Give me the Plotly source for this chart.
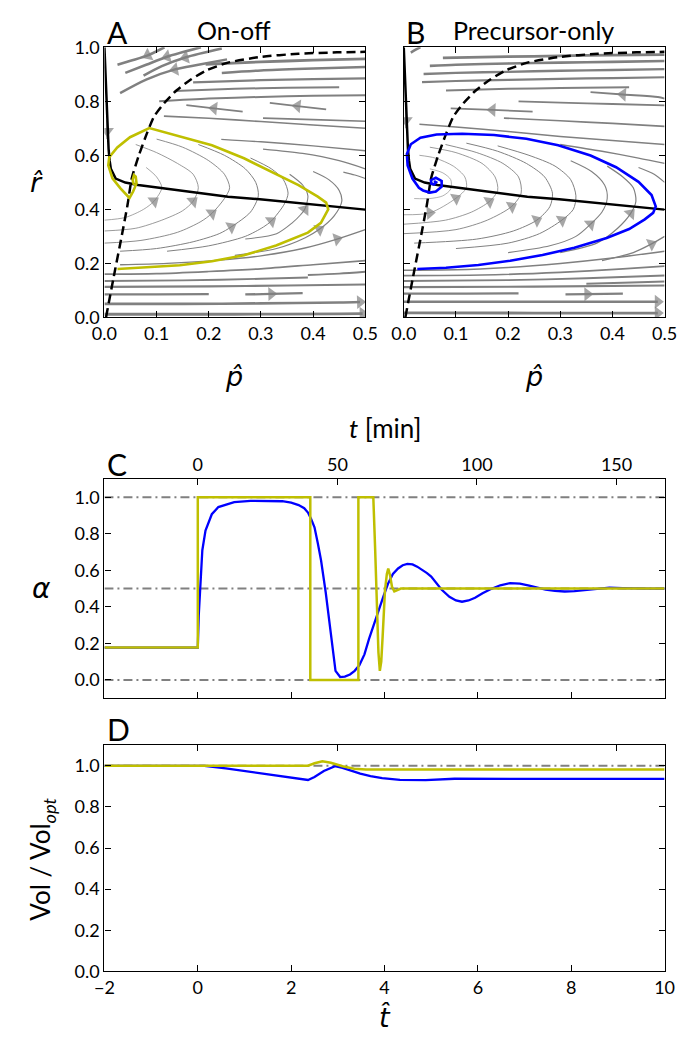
import plotly.graph_objects as go

W, H = 693, 1044

# ---------------- data ----------------
P_TICKS = [0.0, 0.1, 0.2, 0.3, 0.4, 0.5]
R_TICKS = [0.0, 0.2, 0.4, 0.6, 0.8, 1.0]
ALPHA_TICKS = [0.0, 0.2, 0.4, 0.6, 0.8, 1.0]
VOL_TICKS = [0.0, 0.2, 0.4, 0.6, 0.8, 1.0]
THAT_TICKS = [-2, 0, 2, 4, 6, 8, 10]
TMIN_TICKS = [0, 50, 100, 150]
MIN_PER_THAT = 16.72          # minutes per unit of t-hat (read from the two top/bottom scales)

# solid black curve (panels A and B)
SOLID_P = [0.0, 0.004, 0.008, 0.010, 0.0123, 0.0215, 0.040, 0.0646, 0.114, 0.175, 0.237, 0.298, 0.36, 0.421, 0.5]
SOLID_R = [1.0, 0.80, 0.623, 0.58, 0.55, 0.514, 0.499, 0.490, 0.478, 0.462, 0.447, 0.437, 0.426, 0.415, 0.399]
# dashed black curve
DASH_P = [0.003, 0.0203, 0.0326, 0.0443, 0.0523, 0.0658, 0.0818, 0.0953, 0.114, 0.138, 0.163, 0.194, 0.237, 0.298, 0.372, 0.446, 0.5]
DASH_R = [0.0, 0.175, 0.296, 0.417, 0.514, 0.599, 0.683, 0.744, 0.792, 0.840, 0.877, 0.913, 0.943, 0.964, 0.976, 0.981, 0.983]

# on-off trajectory (A)
ONOFF_P = [0.025, 0.083, 0.1445, 0.206, 0.2675, 0.329, 0.39, 0.415, 0.429, 0.425, 0.409, 0.372, 0.329, 0.2675, 0.206,
           0.1445, 0.086, 0.049, 0.0246, 0.0092, 0.0074, 0.0154, 0.0307, 0.048, 0.055, 0.0615, 0.060, 0.0566, 0.054, 0.0566]
ONOFF_R = [0.179, 0.185, 0.193, 0.208, 0.230, 0.266, 0.314, 0.350, 0.400, 0.425, 0.447, 0.49, 0.532, 0.589, 0.637,
           0.671, 0.701, 0.667, 0.629, 0.593, 0.563, 0.515, 0.478, 0.442, 0.466, 0.496, 0.521, 0.527, 0.509, 0.49]
# precursor-only trajectory (B)
PREC_P = [0.026, 0.081, 0.143, 0.204, 0.266, 0.327, 0.389, 0.432, 0.462, 0.478, 0.483, 0.475, 0.45, 0.407, 0.358,
          0.296, 0.235, 0.173, 0.112, 0.063, 0.032, 0.0135, 0.006, 0.0074, 0.0166, 0.029, 0.037, 0.05, 0.0615,
          0.0726, 0.0726, 0.0615, 0.052, 0.053, 0.058, 0.062, 0.058]
PREC_R = [0.179, 0.184, 0.194, 0.210, 0.231, 0.258, 0.294, 0.327, 0.363, 0.387, 0.411, 0.453, 0.502, 0.556, 0.599,
          0.637, 0.661, 0.675, 0.680, 0.677, 0.665, 0.641, 0.605, 0.562, 0.514, 0.48, 0.47, 0.462, 0.466,
          0.484, 0.505, 0.517, 0.508, 0.495, 0.492, 0.50, 0.505]

# streamlines of panel A, points (p, r) in flow direction
STREAMS_A = [
    [(0.115, 1.0), (0.083, 0.97), (0.05, 0.95), (0.025, 0.935)],
    [(0.185, 1.0), (0.12, 0.965), (0.08, 0.935), (0.04, 0.905)],
    [(0.225, 0.995), (0.155, 0.962), (0.11, 0.93), (0.075, 0.895)],
    [(0.235, 0.955), (0.18, 0.935), (0.135, 0.918), (0.08, 0.88), (0.03, 0.83)],
    [(0.5, 0.957), (0.4, 0.952), (0.3, 0.946), (0.194, 0.937)],
    [(0.5, 0.927), (0.4, 0.921), (0.3, 0.914), (0.225, 0.905)],
    [(0.5, 0.885), (0.4, 0.882), (0.3, 0.878), (0.17, 0.87)],
    [(0.45, 0.852), (0.35, 0.85), (0.25, 0.846), (0.135, 0.838)],
    [(0.5, 0.822), (0.4, 0.82), (0.3, 0.816), (0.2, 0.81), (0.105, 0.80)],
    [(0.265, 0.762), (0.21, 0.774), (0.157, 0.786)],
    [(0.425, 0.770), (0.37, 0.782), (0.317, 0.794)],
    [(0.5, 0.726), (0.4, 0.732), (0.304, 0.738)],
    [(0.5, 0.70), (0.4, 0.712), (0.3, 0.725), (0.2, 0.737), (0.114, 0.745)],
    [(0.5, 0.617), (0.4, 0.635), (0.3, 0.65), (0.224, 0.659)],
    [(0.5, 0.55), (0.45, 0.58), (0.38, 0.607), (0.304, 0.623)],
    [(0.5, 0.514), (0.48, 0.527), (0.458, 0.538)],
    [(0.005, 0.73), (0.005, 0.69), (0.005, 0.66)],
    [(0.0, 0.36), (0.04, 0.37), (0.075, 0.40), (0.095, 0.43), (0.11, 0.48), (0.10, 0.52), (0.08, 0.555)],
    [(0.0, 0.32), (0.06, 0.33), (0.11, 0.36), (0.15, 0.395), (0.17, 0.43), (0.18, 0.48), (0.17, 0.53), (0.14, 0.57), (0.10, 0.61), (0.06, 0.64)],
    [(0.0, 0.275), (0.07, 0.285), (0.14, 0.315), (0.185, 0.355), (0.206, 0.385), (0.23, 0.44), (0.24, 0.48), (0.23, 0.53), (0.2, 0.58), (0.15, 0.63), (0.1, 0.66)],
    [(0.03, 0.245), (0.1, 0.255), (0.17, 0.28), (0.22, 0.31), (0.243, 0.335), (0.28, 0.39), (0.295, 0.45), (0.29, 0.50), (0.27, 0.55), (0.23, 0.60), (0.18, 0.64)],
    [(0.12, 0.245), (0.2, 0.265), (0.27, 0.3), (0.305, 0.335), (0.32, 0.357), (0.345, 0.42), (0.352, 0.46), (0.343, 0.51), (0.32, 0.55), (0.28, 0.59)],
    [(0.27, 0.29), (0.33, 0.31), (0.36, 0.35), (0.376, 0.38), (0.384, 0.40), (0.39, 0.45), (0.38, 0.49), (0.355, 0.53)],
    [(0.25, 0.23), (0.33, 0.255), (0.385, 0.295), (0.412, 0.326), (0.44, 0.375), (0.455, 0.43), (0.45, 0.47), (0.43, 0.51), (0.40, 0.54)],
    [(0.03, 0.195), (0.12, 0.2), (0.22, 0.212), (0.3, 0.228), (0.38, 0.255), (0.446, 0.29), (0.5, 0.325)],
    [(0.0, 0.16), (0.1, 0.162), (0.2, 0.17), (0.3, 0.18), (0.4, 0.195), (0.5, 0.21)],
    [(0.0, 0.135), (0.15, 0.137), (0.3, 0.143), (0.39, 0.148)],
    [(0.39, 0.157), (0.45, 0.162), (0.5, 0.169)],
    [(0.0, 0.113), (0.2, 0.115), (0.35, 0.118), (0.5, 0.122)],
    [(0.27, 0.085), (0.32, 0.087), (0.38, 0.09)],
    [(0.0, 0.085), (0.1, 0.085), (0.2, 0.086)],
    [(0.0, 0.05), (0.15, 0.05), (0.3, 0.052), (0.45, 0.055), (0.49, 0.057)],
    [(0.0, 0.012), (0.25, 0.012), (0.45, 0.013), (0.495, 0.014)],
]
ARROWS_A = [[1], [1], [1], [2], [], [], [], [], [], [1], [1], [], [], [], [], [], [1],
            [3], [4], [4], [4], [4], [4], [3], [5], [], [], [], [], [1], [], [4], [3]]

# streamlines of panel B
STREAMS_B = [
    [(0.032, 1.0), (0.022, 0.99), (0.0135, 0.98)],
    [(0.5, 0.973), (0.4, 0.971), (0.3, 0.968), (0.2, 0.965), (0.075, 0.961)],
    [(0.5, 0.949), (0.4, 0.946), (0.3, 0.943), (0.2, 0.94), (0.1, 0.935), (0.05, 0.931)],
    [(0.5, 0.919), (0.4, 0.916), (0.3, 0.913), (0.2, 0.909), (0.1, 0.905), (0.038, 0.901)],
    [(0.5, 0.889), (0.4, 0.886), (0.3, 0.883), (0.2, 0.879), (0.1, 0.875), (0.035, 0.871)],
    [(0.432, 0.852), (0.3, 0.849), (0.2, 0.846), (0.081, 0.84)],
    [(0.5, 0.81), (0.487, 0.816), (0.42, 0.825), (0.358, 0.834)],
    [(0.247, 0.762), (0.17, 0.768), (0.09, 0.774)],
    [(0.5, 0.785), (0.4, 0.79), (0.3, 0.795), (0.22, 0.80)],
    [(0.5, 0.707), (0.4, 0.718), (0.3, 0.728), (0.192, 0.738)],
    [(0.5, 0.64), (0.4, 0.655), (0.3, 0.67), (0.2, 0.688), (0.1, 0.705), (0.03, 0.715)],
    [(0.5, 0.57), (0.45, 0.59), (0.38, 0.615), (0.3, 0.64)],
    [(0.5, 0.50), (0.48, 0.53), (0.45, 0.555)],
    [(0.004, 0.77), (0.004, 0.73), (0.004, 0.70)],
    [(0.02, 0.44), (0.05, 0.44), (0.075, 0.45), (0.09, 0.475), (0.09, 0.51), (0.075, 0.535), (0.05, 0.55)],
    [(0.0, 0.38), (0.05, 0.387), (0.1, 0.441), (0.12, 0.48), (0.117, 0.52), (0.095, 0.56), (0.06, 0.59), (0.03, 0.60)],
    [(0.0, 0.345), (0.08, 0.36), (0.13, 0.39), (0.164, 0.429), (0.18, 0.47), (0.175, 0.52), (0.15, 0.57), (0.1, 0.61), (0.05, 0.63)],
    [(0.0, 0.31), (0.1, 0.325), (0.16, 0.36), (0.207, 0.411), (0.225, 0.46), (0.22, 0.52), (0.19, 0.57), (0.14, 0.61), (0.08, 0.64)],
    [(0.02, 0.275), (0.14, 0.29), (0.21, 0.32), (0.255, 0.36), (0.28, 0.41), (0.285, 0.46), (0.27, 0.52), (0.235, 0.57), (0.18, 0.615), (0.12, 0.645)],
    [(0.1, 0.255), (0.2, 0.275), (0.26, 0.31), (0.303, 0.36), (0.325, 0.40), (0.33, 0.45), (0.32, 0.51), (0.29, 0.56), (0.24, 0.60), (0.18, 0.635)],
    [(0.2, 0.24), (0.28, 0.265), (0.33, 0.3), (0.358, 0.345), (0.38, 0.39), (0.39, 0.44), (0.385, 0.49), (0.36, 0.54), (0.32, 0.58)],
    [(0.3, 0.24), (0.37, 0.275), (0.41, 0.33), (0.435, 0.385), (0.445, 0.43), (0.44, 0.48), (0.42, 0.52), (0.39, 0.56)],
    [(0.38, 0.21), (0.44, 0.24), (0.475, 0.272), (0.5, 0.30)],
    [(0.0, 0.175), (0.1, 0.176), (0.2, 0.185), (0.3, 0.2), (0.4, 0.22), (0.5, 0.245)],
    [(0.0, 0.155), (0.15, 0.157), (0.3, 0.167), (0.42, 0.18), (0.5, 0.19)],
    [(0.0, 0.135), (0.2, 0.138), (0.35, 0.145), (0.5, 0.155)],
    [(0.35, 0.125), (0.42, 0.128), (0.5, 0.133)],
    [(0.0, 0.112), (0.25, 0.114), (0.5, 0.118)],
    [(0.31, 0.085), (0.352, 0.086), (0.42, 0.088)],
    [(0.0, 0.088), (0.12, 0.088), (0.22, 0.089)],
    [(0.0, 0.058), (0.2, 0.058), (0.4, 0.058), (0.487, 0.058)],
    [(0.0, 0.017), (0.25, 0.016), (0.487, 0.016)],
]
ARROWS_B = [[], [], [], [], [], [], [2], [1], [], [], [], [], [], [1],
            [], [1, 2], [3], [3], [3], [3], [3], [3], [2], [], [], [], [], [], [1], [], [3], [2]]

# panel C: allocation alpha(t-hat)
BLUE_ALPHA_T = [-2.0, 0.0, 0.02, 0.062, 0.097, 0.165, 0.30, 0.44, 0.78, 1.13, 1.5, 1.81, 2.0, 2.16, 2.28, 2.36,
                2.43, 2.50, 2.57, 2.64, 2.74, 2.85, 2.95, 3.05, 3.15, 3.26, 3.36, 3.46, 3.57, 3.67, 3.78, 3.88,
                3.98, 4.08, 4.18, 4.29, 4.39, 4.49, 4.60, 4.70, 4.80, 4.91, 5.0, 5.11, 5.22, 5.39, 5.53, 5.66,
                5.80, 5.94, 6.10, 6.28, 6.48, 6.69, 6.90, 7.10, 7.28, 7.45, 7.65, 7.86, 8.07, 8.27, 8.55, 8.82,
                9.1, 9.37, 9.7, 10.0]
BLUE_ALPHA = [0.177, 0.177, 0.35, 0.566, 0.71, 0.817, 0.907, 0.946, 0.973, 0.98, 0.981, 0.978, 0.97, 0.957, 0.94, 0.916,
              0.88, 0.835, 0.75, 0.655, 0.48, 0.245, 0.05, 0.016, 0.018, 0.03, 0.05, 0.08, 0.14, 0.226, 0.31, 0.39,
              0.46, 0.53, 0.58, 0.61, 0.628, 0.635, 0.632, 0.62, 0.605, 0.585, 0.566, 0.53, 0.495, 0.455, 0.435, 0.428,
              0.435, 0.45, 0.475, 0.498, 0.518, 0.53, 0.527, 0.516, 0.505, 0.495, 0.488, 0.484, 0.486, 0.49, 0.498, 0.505,
              0.503, 0.50, 0.50, 0.50]
GOLD_ALPHA_T = [-2.0, 0.0, 0.0, 2.41, 2.41, 3.44, 3.44, 3.76, 3.80, 3.84, 3.87, 3.90, 3.93, 3.96, 4.01, 4.05,
                4.08, 4.12, 4.16, 4.21, 4.25, 4.35, 10.0]
GOLD_ALPHA = [0.177, 0.177, 1.0, 1.0, 0.0, 0.0, 1.0, 1.0, 0.71, 0.40, 0.15, 0.05, 0.10, 0.24, 0.49, 0.58,
              0.61, 0.57, 0.51, 0.485, 0.49, 0.50, 0.50]
ALPHA_REF = [0.0, 0.5, 1.0]

# panel D: Vol / Vol_opt
BLUE_VOL_T = [-2.0, 0.14, 0.6, 1.2, 1.8, 2.1, 2.36, 2.5, 2.7, 2.94, 3.1, 3.3, 3.48, 3.7, 3.95, 4.33, 4.88, 5.5, 6.43, 7.98, 10.0]
BLUE_VOL = [1.0, 1.0, 0.987, 0.968, 0.949, 0.94, 0.931, 0.945, 0.975, 0.998, 0.99, 0.975, 0.962, 0.95, 0.94, 0.931, 0.930, 0.937, 0.937, 0.936, 0.936]
GOLD_VOL_T = [-2.0, 2.36, 2.5, 2.67, 2.85, 3.1, 3.35, 3.6, 10.0]
GOLD_VOL = [1.0, 1.0, 1.012, 1.022, 1.015, 0.998, 0.986, 0.982, 0.982]
VOL_REF = [1.0]

# ---------------- styles ----------------
GRAY = "#808080"
GOLD = "#bfbf00"
BLUE = "#0000ff"
TICK_FONT = dict(family="Lato, DejaVu Sans, sans-serif", size=18, color="black")
MATH_FONT = "DejaVu Sans, sans-serif"
TXT_FONT = "Lato, DejaVu Sans, sans-serif"
WIDTHS_A = [2.6, 2.6, 2.6, 2.4, 2.8, 2.5, 2.2, 2.0, 2.0, 1.8, 1.8, 1.7, 1.6, 1.4, 1.3, 1.2, 1.2,
            0.7, 0.8, 0.9, 1.0, 1.0, 1.1, 1.2, 1.4, 1.7, 1.9, 1.9, 2.1, 2.3, 2.3, 2.6, 2.9]
WIDTHS_B = [2.5, 2.8, 2.6, 2.4, 2.2, 2.0, 1.9, 1.8, 1.8, 1.7, 1.5, 1.3, 1.2, 1.2,
            0.6, 0.7, 0.8, 0.9, 1.0, 1.0, 1.1, 1.2, 1.3, 1.5, 1.7, 1.9, 2.0, 2.1, 2.3, 2.3, 2.6, 2.9]


def dx(px):
    return px / W


def dy(px):
    return 1 - px / H


fig = go.Figure()


def add_streams(streams, arrows, widths, xa, ya):
    ax_x, ax_y = [], []
    for pts, arr, w in zip(streams, arrows, widths):
        fig.add_trace(go.Scatter(x=[p for p, _ in pts], y=[r for _, r in pts], mode="lines",
                                 line=dict(color=GRAY, width=w, shape="spline", smoothing=0.8),
                                 xaxis=xa, yaxis=ya, hoverinfo="skip", showlegend=False))
        for k in arr:
            ax_x += [pts[k - 1][0], pts[k][0]]
            ax_y += [pts[k - 1][1], pts[k][1]]
    n = len(ax_x) // 2
    fig.add_trace(go.Scatter(x=ax_x, y=ax_y, mode="markers",
                             marker=dict(symbol="triangle-up", size=[0, 12] * n, color=GRAY,
                                         angleref="previous", line=dict(width=0)),
                             xaxis=xa, yaxis=ya, hoverinfo="skip", showlegend=False))


def add_phase(xa, ya, traj_p, traj_r, color):
    fig.add_trace(go.Scatter(x=SOLID_P, y=SOLID_R, mode="lines", line=dict(color="black", width=2.5),
                             xaxis=xa, yaxis=ya, showlegend=False))
    fig.add_trace(go.Scatter(x=DASH_P, y=DASH_R, mode="lines",
                             line=dict(color="black", width=2.5, dash="9px,5px", shape="spline", smoothing=0.6),
                             xaxis=xa, yaxis=ya, showlegend=False))
    fig.add_trace(go.Scatter(x=traj_p, y=traj_r, mode="lines",
                             line=dict(color=color, width=2.6),
                             xaxis=xa, yaxis=ya, showlegend=False))


add_streams(STREAMS_A, ARROWS_A, WIDTHS_A, "x", "y")
add_phase("x", "y", ONOFF_P, ONOFF_R, GOLD)
add_streams(STREAMS_B, ARROWS_B, WIDTHS_B, "x2", "y2")
add_phase("x2", "y2", PREC_P, PREC_R, BLUE)

# panel C
for a in ALPHA_REF:
    fig.add_trace(go.Scatter(x=[THAT_TICKS[0], THAT_TICKS[-1]], y=[a, a], mode="lines",
                             line=dict(color=GRAY, width=2, dash="9px,4px,2px,4px"),
                             xaxis="x3", yaxis="y3", showlegend=False))
fig.add_trace(go.Scatter(x=BLUE_ALPHA_T, y=BLUE_ALPHA, mode="lines",
                         line=dict(color=BLUE, width=2.3),
                         xaxis="x3", yaxis="y3", showlegend=False))
fig.add_trace(go.Scatter(x=GOLD_ALPHA_T, y=GOLD_ALPHA, mode="lines", line=dict(color=GOLD, width=2.5),
                         xaxis="x3", yaxis="y3", showlegend=False))

# panel D
for v in VOL_REF:
    fig.add_trace(go.Scatter(x=[THAT_TICKS[0], THAT_TICKS[-1]], y=[v, v], mode="lines",
                             line=dict(color=GRAY, width=2, dash="9px,4px,2px,4px"),
                             xaxis="x4", yaxis="y4", showlegend=False))
fig.add_trace(go.Scatter(x=BLUE_VOL_T, y=BLUE_VOL, mode="lines",
                         line=dict(color=BLUE, width=2.3),
                         xaxis="x4", yaxis="y4", showlegend=False))
fig.add_trace(go.Scatter(x=GOLD_VOL_T, y=GOLD_VOL, mode="lines",
                         line=dict(color=GOLD, width=2.5),
                         xaxis="x4", yaxis="y4", showlegend=False))

base = dict(showline=True, linecolor="black", linewidth=1.2, ticks="inside", ticklen=6, tickwidth=1,
            tickcolor="black", showgrid=False, zeroline=False, tickfont=TICK_FONT)
tmin_range = [THAT_TICKS[0] * MIN_PER_THAT, THAT_TICKS[-1] * MIN_PER_THAT]

# invisible traces so that the top (minute) axes are drawn
for xa, ya in (("x5", "y3"), ("x6", "y4")):
    fig.add_trace(go.Scatter(x=tmin_range, y=[-5, -5], mode="lines", line=dict(width=0, color="rgba(0,0,0,0)"),
                             xaxis=xa, yaxis=ya, hoverinfo="skip", showlegend=False))

fig.update_layout(
    width=W, height=H, margin=dict(l=0, r=0, t=0, b=0),
    paper_bgcolor="white", plot_bgcolor="white",
    xaxis=dict(base, domain=[dx(95), dx(366)], range=[0, 0.5], tickvals=P_TICKS, tickformat=".1f",
               mirror="ticks", anchor="y"),
    yaxis=dict(base, domain=[dy(312), dy(36)], range=[0, 1], tickvals=R_TICKS, tickformat=".1f",
               mirror="ticks", anchor="x"),
    xaxis2=dict(base, domain=[dx(406), dx(677)], range=[0, 0.5], tickvals=P_TICKS, tickformat=".1f",
                mirror="ticks", anchor="y2"),
    yaxis2=dict(base, domain=[dy(312), dy(36)], range=[0, 1], tickvals=R_TICKS, showticklabels=False,
                mirror="ticks", anchor="x2"),
    xaxis3=dict(base, domain=[dx(95), dx(677)], range=[-2, 10], tickvals=THAT_TICKS, showticklabels=False,
                mirror=True, anchor="y3"),
    yaxis3=dict(base, domain=[dy(701), dy(477)], range=[-0.1, 1.1], tickvals=ALPHA_TICKS, tickformat=".1f",
                mirror="ticks", anchor="x3"),
    xaxis4=dict(base, domain=[dx(95), dx(677)], range=[-2, 10], tickvals=THAT_TICKS, tickformat="d",
                mirror=True, anchor="y4"),
    yaxis4=dict(base, domain=[dy(980), dy(749)], range=[0, 1.1], tickvals=VOL_TICKS, tickformat=".1f",
                mirror="ticks", anchor="x4"),
    xaxis5=dict(base, overlaying="x3", side="top", anchor="y3", range=tmin_range, tickvals=TMIN_TICKS,
                domain=[dx(95), dx(677)]),
    xaxis6=dict(base, overlaying="x4", side="top", anchor="y4", range=tmin_range, tickvals=TMIN_TICKS,
                showticklabels=False, domain=[dx(95), dx(677)]),
)

ann = [
    dict(text="A", x=dx(96), y=dy(20), xanchor="left", font=dict(family=TXT_FONT, size=30)),
    dict(text="On-off", x=dx(230), y=dy(18), xanchor="center", font=dict(family=TXT_FONT, size=25)),
    dict(text="B", x=dx(406), y=dy(20), xanchor="left", font=dict(family=TXT_FONT, size=30)),
    dict(text="Precursor-only", x=dx(541), y=dy(18), xanchor="center", font=dict(family=TXT_FONT, size=25)),
    dict(text="<i>r\u0302</i>", x=dx(24), y=dy(174), xanchor="center", font=dict(family=MATH_FONT, size=27)),
    dict(text="<i>p\u0302</i>", x=dx(230), y=dy(372), xanchor="center", font=dict(family=MATH_FONT, size=27)),
    dict(text="<i>p\u0302</i>", x=dx(541), y=dy(372), xanchor="center", font=dict(family=MATH_FONT, size=27)),
    dict(text="<i>t</i> [min]", x=dx(386), y=dy(425), xanchor="center", font=dict(family=TXT_FONT, size=26)),
    dict(text="C", x=dx(96), y=dy(462), xanchor="left", font=dict(family=TXT_FONT, size=30)),
    dict(text="<i>α</i>", x=dx(30), y=dy(589), xanchor="center", font=dict(family=MATH_FONT, size=28)),
    dict(text="D", x=dx(96), y=dy(732), xanchor="left", font=dict(family=TXT_FONT, size=30)),
    dict(text="Vol / Vol<sub><i>opt</i></sub>", x=dx(30), y=dy(865), xanchor="center", yanchor="middle",
         textangle=-90, font=dict(family=TXT_FONT, size=26)),
    dict(text="<i>t\u0302</i>", x=dx(386), y=dy(1027), xanchor="center", font=dict(family=MATH_FONT, size=27)),
]
for a in ann:
    a.setdefault("yanchor", "middle")
    a.update(xref="paper", yref="paper", showarrow=False)
    a["font"].setdefault("color", "black")
fig.update_layout(annotations=ann)

fig.write_html("out.html", config={"displayModeBar": False},
               post_script="document.body.style.margin='0px';")
